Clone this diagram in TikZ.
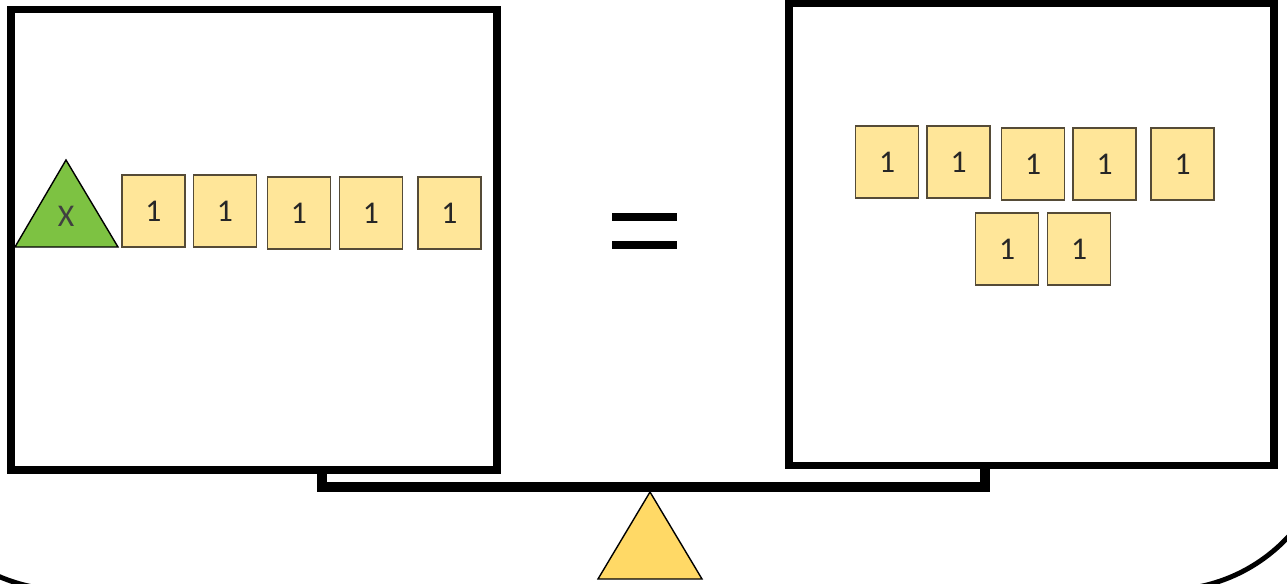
\documentclass[tikz,border=0pt]{standalone}
\usepackage{fontspec}
\setmainfont{Carlito}
\usepackage{xcolor}
\definecolor{tilefill}{RGB}{255,230,153}
\definecolor{tileline}{RGB}{85,75,55}
\definecolor{xgreen}{RGB}{125,194,66}
\definecolor{pivotfill}{RGB}{255,217,102}

\begin{document}
\begin{tikzpicture}[x=0.02cm, y=-0.02cm,
    tile/.style={draw=tileline, line width=0.9pt, fill=tilefill, minimum width=1.26cm, minimum height=1.45cm, inner sep=0pt, font=\fontsize{18}{21}\selectfont, text=black!85},
    pan/.style={line width=4.2pt},
]
\useasboundingbox (0,0) rectangle (1287,584);

% outer frame, only its lower corners show
\begin{scope}
\clip (0,0) rectangle (1287,584);
\draw[line width=2.8pt, rounded corners=3.34cm] (-102,-300) rectangle (1333,590);
\end{scope}

% pans and beam
\draw[pan] (11,9.5) rectangle (497,470);
\draw[pan] (789,3.5) rectangle (1274,465.5);
\draw[line width=6pt] (322,470) -- (322,487) -- (985,487) -- (985,466);
\draw[fill=pivotfill, line width=0.8pt] (650,492) -- (702,579) -- (598,579) -- cycle;

% equals sign
\draw[line width=4pt] (612,217) -- (677,217);
\draw[line width=4pt] (612,245) -- (677,245);

% left pan: x + 5
\draw[fill=xgreen, line width=0.8pt] (15,247) -- (66,160) -- (118,247) -- cycle;
\node[font=\fontsize{18}{21}\selectfont, text=black!75] (xvar) at (66,216) {X};
\foreach \n/\cx/\cy in {1/153.5/211, 2/225/211, 3/299/213, 4/371/213, 5/449.5/213} {
    \node[tile] (l\n) at (\cx,\cy) {1};
}

% right pan: 7
\foreach \n/\cx/\cy in {1/887/162, 2/958.5/162, 3/1033/164, 4/1104.5/164, 5/1182.5/164, 6/1007/249, 7/1079/249} {
    \node[tile] (r\n) at (\cx,\cy) {1};
}
\end{tikzpicture}
\end{document}
